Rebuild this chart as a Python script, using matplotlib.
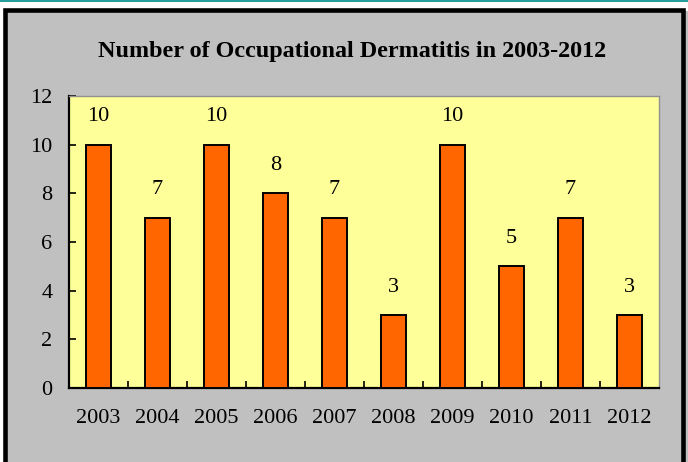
import numpy as np
import matplotlib
matplotlib.use('Agg')
from matplotlib import pyplot as plt
from matplotlib.patches import Rectangle
from matplotlib.lines import Line2D

years = ['2003', '2004', '2005', '2006', '2007', '2008', '2009', '2010', '2011', '2012']
cases = [10, 7, 10, 8, 7, 3, 10, 5, 7, 3]
title = 'Number of Occupational Dermatitis in 2003-2012'

plt.rcParams['font.family'] = ['Liberation Serif', 'DejaVu Serif']

W, H = 688, 462
fig = plt.figure(figsize=(W / 100, H / 100), dpi=100, facecolor='white')

# gray frame with thick black border, teal strip on top
fig.patches.append(Rectangle((5 / W, 0), (W - 5) / W, (H - 10.5) / H,
                             transform=fig.transFigure, facecolor='#c0c0c0',
                             edgecolor='none', zorder=-3))
fig.patches.append(Rectangle((5 / W, -20 / H), 678 / W, (H + 20 - 10.5) / H,
                             transform=fig.transFigure, facecolor='none',
                             edgecolor='black', linewidth=3.3, zorder=-2))
fig.lines.append(Line2D([0, 1], [(H - 0.8) / H] * 2, transform=fig.transFigure,
                        color='#008b8b', linewidth=1.2, zorder=-2))

ax = fig.add_axes([69 / W, 74 / H, 590 / W, 292 / H])
ax.set_facecolor('#ffff99')
x = np.arange(len(years))
bars = ax.bar(x, cases, width=0.43, color='#ff6600', edgecolor='black', linewidth=1.4, zorder=3)

for xi, v in zip(x, cases):
    ax.annotate(str(v), (xi, v), xytext=(0, 20), textcoords='offset points',
                ha='center', va='center', fontsize=16)

ax.set_xlim(-0.5, len(years) - 0.5)
ax.set_ylim(0, 12)
ax.set_yticks(np.arange(0, 13, 2))
ax.tick_params(axis='y', direction='in', length=5, width=1.2, labelsize=16, pad=12)
ax.set_xticks(x)
ax.set_xticklabels(years)
ax.tick_params(axis='x', which='major', length=0, labelsize=16, pad=15)
ax.set_xticks(np.arange(0.5, len(years) - 0.5, 1), minor=True)
ax.tick_params(axis='x', which='minor', direction='in', length=5, width=1.2)

for s in ['left', 'bottom']:
    ax.spines[s].set_linewidth(1.6)
    ax.spines[s].set_color('black')
for s in ['top', 'right']:
    ax.spines[s].set_linewidth(1.0)
    ax.spines[s].set_color('#909090')

fig.text(352 / W, (H - 52) / H, title, ha='center', va='center',
         fontsize=17.4, fontweight='bold')

plt.savefig('out.png', dpi=100)
